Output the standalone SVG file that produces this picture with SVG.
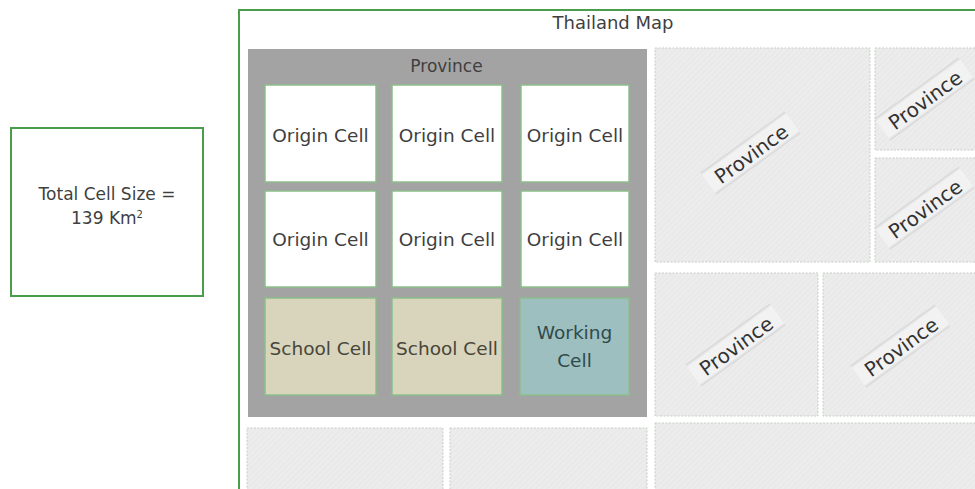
<svg xmlns="http://www.w3.org/2000/svg" width="975" height="489" viewBox="0 0 975 489">
<defs>
<pattern id="hatch" width="4" height="4" patternUnits="userSpaceOnUse" patternTransform="rotate(45)">
<rect width="4" height="4" fill="#ececec"/>
<line x1="0" y1="0" x2="0" y2="4" stroke="#e2e2e2" stroke-width="1"/>
</pattern>
<linearGradient id="band" x1="0" y1="0" x2="0" y2="1">
<stop offset="0" stop-color="#d4d4d4"/>
<stop offset="0.12" stop-color="#f2f2f2"/>
<stop offset="0.88" stop-color="#f2f2f2"/>
<stop offset="1" stop-color="#d4d4d4"/>
</linearGradient>
</defs>
<style>
text{font-family:"DejaVu Sans","Liberation Sans",sans-serif;text-anchor:middle;fill:#3f3f3f}
.frame{fill:#ffffff;stroke:#4a9d4a;stroke-width:2}
.cell{stroke:#8cbf8c;stroke-width:1.5}
.origin{fill:#ffffff}
.school{fill:#d9d5bd}
.work{fill:#9ebfc0}
.lbl{font-size:18.5px}
.tile{fill:url(#hatch);stroke:#c5cfc5;stroke-width:1;stroke-dasharray:2 1.5}
.plbl{font-size:20px;fill:#333333}
.bandr{fill:url(#band)}
</style>
<rect width="975" height="489" fill="#ffffff"/>

<g id="total-size">
<rect class="frame" x="11" y="128" width="192" height="168"/>
<text x="107" y="200" style="font-size:17px">Total Cell Size =</text>
<text x="107" y="224" style="font-size:17px">139 Km<tspan dy="-6" style="font-size:10px">2</tspan></text>
</g>

<g id="thailand-map">
<rect class="frame" x="239" y="10" width="760" height="500"/>
<text x="613" y="29" style="font-size:18px">Thailand Map</text>
</g>

<g id="province-main">
<rect x="248" y="49" width="399" height="368" fill="#a3a3a3"/>
<text x="446.5" y="72" style="font-size:17px">Province</text>
</g>

<g id="origin-1"><rect class="cell origin" x="265" y="85" width="111" height="97"/><text class="lbl" x="320.5" y="142">Origin Cell</text></g>
<g id="origin-2"><rect class="cell origin" x="392" y="85" width="110" height="97"/><text class="lbl" x="447" y="142">Origin Cell</text></g>
<g id="origin-3"><rect class="cell origin" x="521" y="85" width="108" height="97"/><text class="lbl" x="575" y="142">Origin Cell</text></g>
<g id="origin-4"><rect class="cell origin" x="265" y="191" width="111" height="96"/><text class="lbl" x="320.5" y="246">Origin Cell</text></g>
<g id="origin-5"><rect class="cell origin" x="392" y="191" width="110" height="96"/><text class="lbl" x="447" y="246">Origin Cell</text></g>
<g id="origin-6"><rect class="cell origin" x="521" y="191" width="108" height="96"/><text class="lbl" x="575" y="246">Origin Cell</text></g>
<g id="school-1"><rect class="cell school" x="265" y="298" width="111" height="97"/><text class="lbl" x="320.5" y="355" style="fill:#48463a">School Cell</text></g>
<g id="school-2"><rect class="cell school" x="392" y="298" width="110" height="97"/><text class="lbl" x="447" y="355" style="fill:#48463a">School Cell</text></g>
<g id="working"><rect class="cell work" x="520" y="298" width="109" height="97"/><text class="lbl" x="574.5" y="339" style="fill:#2f4a4b">Working</text><text class="lbl" x="574.5" y="367" style="fill:#2f4a4b">Cell</text></g>

<g id="province-a">
<rect class="tile" x="655" y="48" width="215" height="214"/>
<g transform="translate(752,155) rotate(-36)"><rect class="bandr" x="-52" y="-16" width="104" height="27"/><text class="plbl" x="0" y="6">Province</text></g>
</g>
<g id="province-b">
<rect class="tile" x="875" y="48" width="110" height="102"/>
<g transform="translate(926,101) rotate(-36)"><rect class="bandr" x="-52" y="-16" width="104" height="27"/><text class="plbl" x="0" y="6">Province</text></g>
</g>
<g id="province-c">
<rect class="tile" x="875" y="158" width="110" height="104"/>
<g transform="translate(926,210) rotate(-36)"><rect class="bandr" x="-52" y="-16" width="104" height="27"/><text class="plbl" x="0" y="6">Province</text></g>
</g>
<g id="province-d">
<rect class="tile" x="655" y="273" width="163" height="143"/>
<g transform="translate(737,347) rotate(-36)"><rect class="bandr" x="-52" y="-16" width="104" height="27"/><text class="plbl" x="0" y="6">Province</text></g>
</g>
<g id="province-e">
<rect class="tile" x="823" y="273" width="160" height="143"/>
<g transform="translate(902,348) rotate(-36)"><rect class="bandr" x="-52" y="-16" width="104" height="27"/><text class="plbl" x="0" y="6">Province</text></g>
</g>
<g id="province-f"><rect class="tile" x="247" y="428" width="196" height="70"/></g>
<g id="province-g"><rect class="tile" x="450" y="428" width="197" height="70"/></g>
<g id="province-h"><rect class="tile" x="655" y="423" width="330" height="75"/></g>

<g id="connectors"></g>
</svg>
